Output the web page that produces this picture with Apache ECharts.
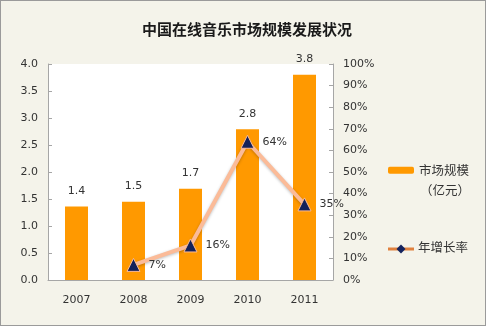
<!DOCTYPE html>
<html><head><meta charset="utf-8">
<script src="https://cdn.jsdelivr.net/npm/echarts@6/dist/echarts.min.js"></script>
<style>
html,body{margin:0;padding:0;background:#fff;}
#c{width:484px;height:324px;border:1px solid #9a9a9a;background:#f4f3ea;}
</style></head><body>
<div id="c"></div>
<script>
const years = ['2007','2008','2009','2010','2011'];
const marketSize = [1.36, 1.45, 1.69, 2.79, 3.8];
const growthRate = [null, 7, 16, 64, 35];

const chart = echarts.init(document.getElementById('c'), null, {renderer:'canvas'});
const numFont = 'DejaVu Sans';
const cjk = '"Noto Sans CJK SC"';
chart.setOption({
  backgroundColor: '#f4f3ea',
  animation: false,
  title: {
    text: '中国在线音乐市场规模发展状况',
    left: 136, top: 16,
    textStyle: {fontFamily: cjk, fontSize: 15, fontWeight: 'bold', color: '#1a1a1a'}
  },
  grid: {left: 47, right: 152, top: 63, bottom: 45, show: true, backgroundColor: '#ffffff', borderWidth: 0},
  legend: [{
    data: ['市场规模'],
    orient: 'vertical', left: 387, top: 163, padding: 0,
    itemWidth: 26, itemHeight: 7, itemGap: 4,
    textStyle: {fontFamily: cjk, fontSize: 12.5, color: '#333'},
    selectedMode: false
  }],
  graphic: [
    {type:'text', left: 419, top: 183, style:{text:'（亿元）', font: '12.5px "Noto Sans CJK SC"', fill:'#333'}},
    {type:'line', shape:{x1:387, y1:248, x2:413, y2:248}, style:{stroke:'#e0813e', lineWidth:3}},
    {type:'polygon', shape:{points:[[400,243.5],[404.5,248],[400,252.5],[395.5,248]]}, style:{fill:'#14235e'}},
    {type:'text', left: 417, top: 240, style:{text:'年增长率', font: '12.5px "Noto Sans CJK SC"', fill:'#333'}}
  ],
  xAxis: {
    type: 'category', data: years,
    axisLine: {lineStyle: {color: '#a6a6a6'}},
    axisTick: {inside: true, length: 4, lineStyle: {color: '#a6a6a6'}},
    axisLabel: {fontFamily: numFont, fontSize: 11, color: '#333', margin: 15}
  },
  yAxis: [{
    type: 'value', min: 0, max: 4, interval: 0.5,
    axisLine: {show: true, lineStyle: {color: '#a6a6a6'}},
    axisTick: {show: true, inside: true, length: 4, lineStyle: {color: '#a6a6a6'}},
    splitLine: {show: false},
    axisLabel: {fontFamily: numFont, fontSize: 11, color: '#333', margin: 10,
      formatter: v => v.toFixed(1)}
  },{
    type: 'value', min: 0, max: 100, interval: 10,
    axisLine: {show: true, lineStyle: {color: '#a6a6a6'}},
    axisTick: {show: true, inside: true, length: 4, lineStyle: {color: '#a6a6a6'}},
    splitLine: {show: false},
    axisLabel: {fontFamily: numFont, fontSize: 11, color: '#333', margin: 10,
      formatter: v => v + '%'}
  }],
  series: [{
    name: '市场规模', type: 'bar', data: marketSize, barWidth: 23,
    itemStyle: {color: '#ff9900'},
    label: {show: true, position: 'top', distance: 10, fontFamily: numFont, fontSize: 11, color: '#333',
      formatter: p => (Math.round(p.value * 10) / 10).toFixed(1)}
  },{
    name: '年增长率', type: 'line', yAxisIndex: 1, data: growthRate,
    symbol: 'triangle', symbolSize: 13,
    lineStyle: {color: '#fbbb98', width: 4, shadowColor: 'rgba(0,0,0,0.25)', shadowBlur: 3, shadowOffsetY: 1},
    itemStyle: {color: '#13215a', borderColor: '#fbbb98', borderWidth: 1},
    label: {show: true, position: 'right', distance: 8, fontFamily: numFont, fontSize: 11, color: '#333',
      formatter: p => p.value + '%'}
  }]
});
</script></body></html>
